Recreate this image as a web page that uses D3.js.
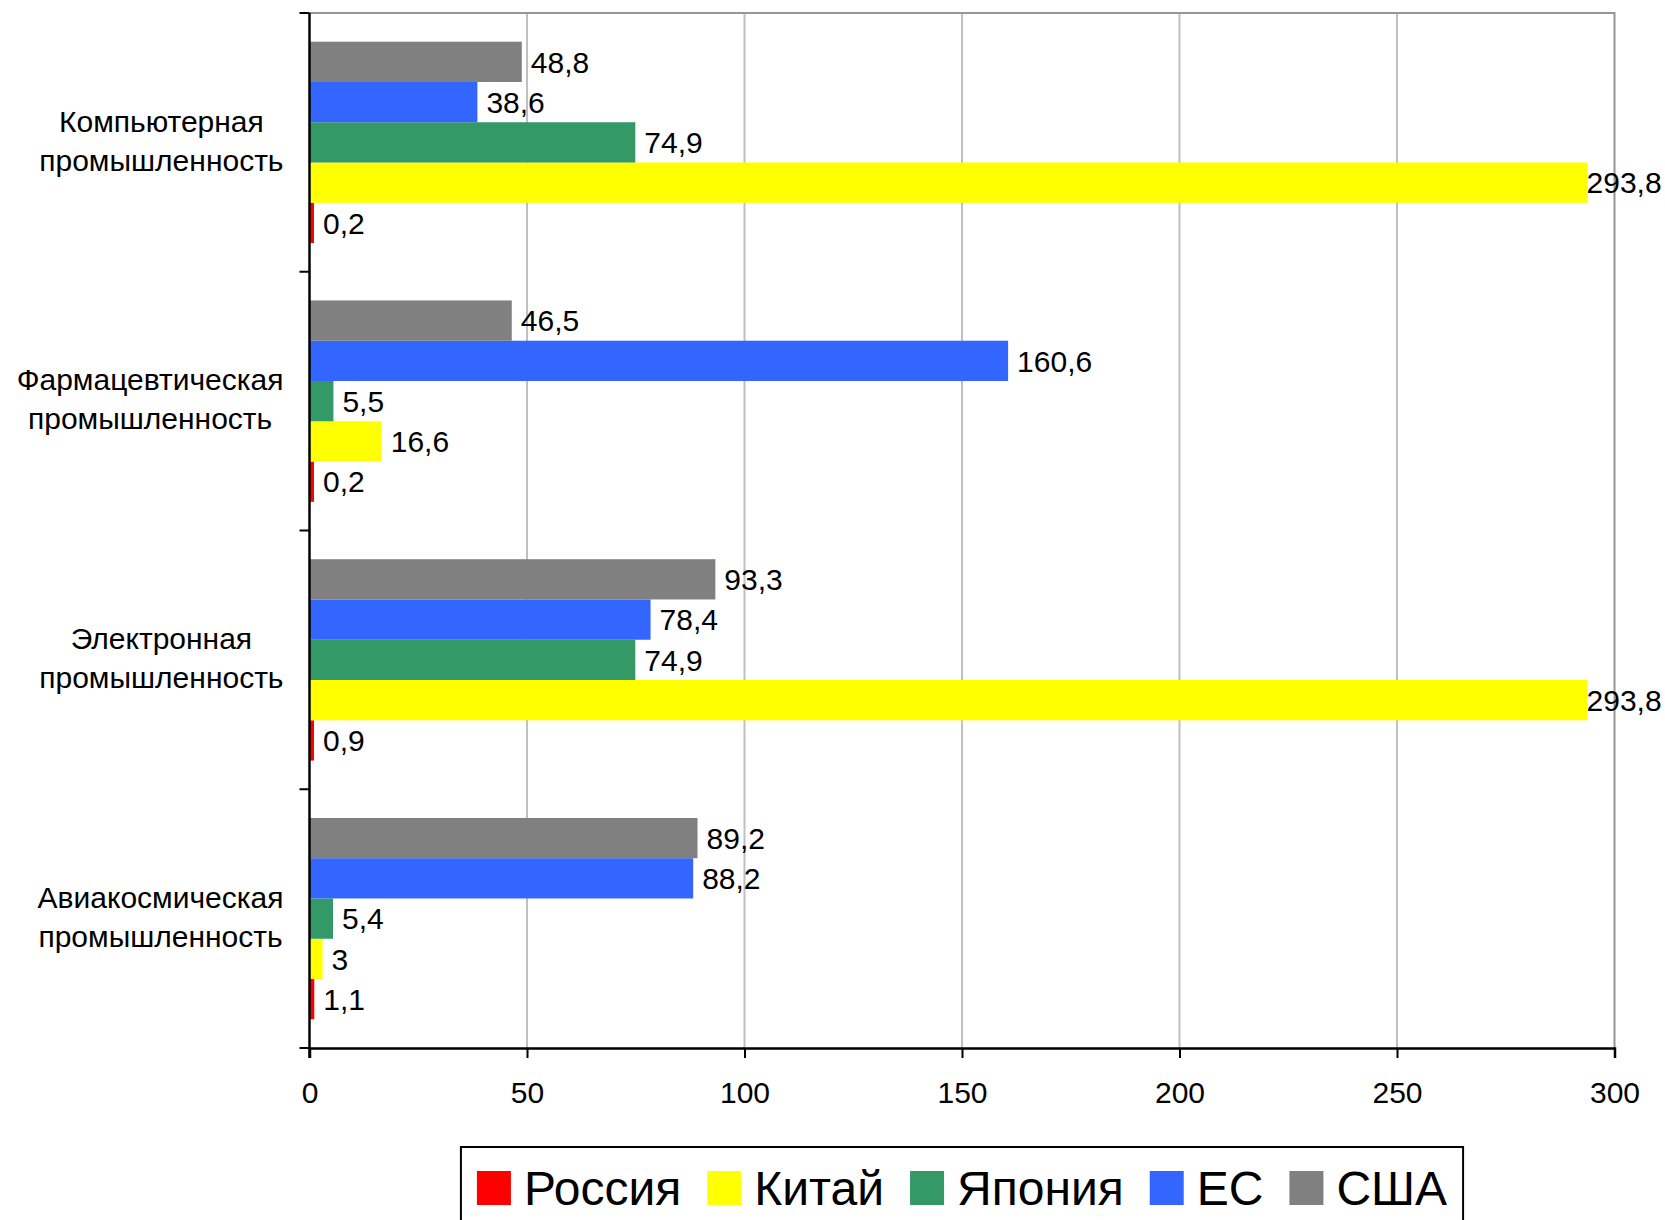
<!DOCTYPE html>
<html>
<head>
<meta charset="utf-8">
<script src="https://cdn.jsdelivr.net/npm/d3@7"></script>
<style>
  body { margin: 0; background: #fff; }
  text { font-family: "Liberation Sans", Arial, sans-serif; fill: #000; }
</style>
</head>
<body>
<script>
// Data
const categories = ["Компьютерная промышленность", "Фармацевтическая промышленность", "Электронная промышленность", "Авиакосмическая промышленность"];
const seriesNames = ["Россия", "Китай", "Япония", "ЕС", "США"];
const russia = [0.2, 0.2, 0.9, 1.1];
const china = [293.8, 16.6, 293.8, 3];
const japan = [74.9, 5.5, 74.9, 5.4];
const eu = [38.6, 160.6, 78.4, 88.2];
const usa = [48.8, 46.5, 93.3, 89.2];
const xTicks = [0, 50, 100, 150, 200, 250, 300];

const seriesValues = [russia, china, japan, eu, usa];
const colors = ["#ff0000", "#ffff00", "#339966", "#3366ff", "#808080"];

// Chart dimensions
const W = 1665, H = 1220;
const plot = { left: 309.5, right: 1614.5, top: 13, bottom: 1048 };

const svg = d3.select("body")
    .append("svg")
    .attr("width", W)
    .attr("height", H);

const fmt = d3.formatLocale({ decimal: ",", thousands: " ", grouping: [3], currency: ["", ""] }).format(".4~g");

// Scales
const x = d3.scaleLinear().domain([0, 300]).range([plot.left, plot.right]);
const y = d3.scaleBand().domain(categories).range([plot.top, plot.bottom]);
// inside a group the last series (США) is on top
const inner = d3.scaleBand()
    .domain(seriesNames.slice().reverse())
    .range([28.7, y.bandwidth() - 28.7]);

// Gridlines
svg.append("g")
    .selectAll("line")
    .data(xTicks.filter(d => d > 0 && d < 300))
    .enter()
    .append("line")
    .attr("x1", d => x(d)).attr("x2", d => x(d))
    .attr("y1", plot.top).attr("y2", plot.bottom)
    .attr("stroke", "#c0c0c0")
    .attr("stroke-width", 2);

// Plot border (top and right)
svg.append("path")
    .attr("d", `M${plot.left},${plot.top}H${plot.right}V${plot.bottom}`)
    .attr("fill", "none")
    .attr("stroke", "#969696")
    .attr("stroke-width", 2);

// Bars
const bars = [];
seriesNames.forEach((s, i) => {
    categories.forEach((c, j) => bars.push({ s, c, v: seriesValues[i][j], color: colors[i] }));
});

svg.append("g")
    .selectAll("rect")
    .data(bars)
    .enter()
    .append("rect")
    .attr("x", x(0))
    .attr("y", d => y(d.c) + inner(d.s))
    .attr("width", d => Math.max(x(d.v) - x(0), 4.5))
    .attr("height", inner.bandwidth())
    .attr("fill", d => d.color);

// Value labels
svg.append("g")
    .selectAll("text")
    .data(bars)
    .enter()
    .append("text")
    .attr("y", d => y(d.c) + inner(d.s) + inner.bandwidth() / 2)
    .attr("dy", "0.36em")
    .attr("font-size", 30)
    .text(d => fmt(d.v))
    .each(function (d) {
        const w = this.getComputedTextLength();
        const end = Math.max(x(d.v), x(0) + 4.5);
        let xp = end + 9;
        if (xp + w > W - 3) xp = end - 1;
        d3.select(this).attr("x", xp);
    });

// X axis
const xAxis = d3.axisBottom(x).tickValues(xTicks).tickSize(10).tickPadding(24).tickFormat(d => d);
const gx = svg.append("g")
    .attr("transform", `translate(0,${plot.bottom})`)
    .call(xAxis);
gx.select(".domain").attr("stroke", "#000").attr("stroke-width", 2.5);
gx.selectAll(".tick line").attr("stroke", "#000").attr("stroke-width", 2);
gx.selectAll(".tick text").attr("font-size", 30).attr("font-family", null);

// Y axis with ticks at category boundaries
const bounds = categories.map(c => y(c)).concat([plot.bottom]);
svg.append("line")
    .attr("x1", plot.left).attr("x2", plot.left)
    .attr("y1", plot.top).attr("y2", plot.bottom + 10)
    .attr("stroke", "#000").attr("stroke-width", 2.5);
svg.append("g")
    .selectAll("line")
    .data(bounds)
    .enter()
    .append("line")
    .attr("x1", plot.left - 10).attr("x2", plot.left)
    .attr("y1", d => d).attr("y2", d => d)
    .attr("stroke", "#000").attr("stroke-width", 2);

// Category labels: block right edge near the axis, lines centered in the block
categories.forEach(c => {
    const lines = c.split(" ");
    const cy = y(c) + y.bandwidth() / 2;
    const t = svg.append("text")
        .attr("font-size", 30)
        .attr("text-anchor", "middle");
    lines.forEach((l, k) => {
        t.append("tspan")
            .attr("y", cy - 10.7 + k * 39)
            .text(l);
    });
    let maxW = 0;
    t.selectAll("tspan").each(function () { maxW = Math.max(maxW, this.getComputedTextLength()); });
    t.selectAll("tspan").attr("x", plot.left - 26 - maxW / 2);
});

// Legend
const legend = svg.append("g");
let lx = 16;
seriesNames.forEach((s, i) => {
    legend.append("rect")
        .attr("x", lx).attr("y", 24)
        .attr("width", 34).attr("height", 34)
        .attr("fill", colors[i]);
    const t = legend.append("text")
        .attr("x", lx + 47).attr("y", 58)
        .attr("font-size", 48)
        .text(s);
    lx += 47 + t.node().getComputedTextLength() + 26;
});
const legendW = lx - 26 + 16;
const legendX = (plot.left + plot.right) / 2 - legendW / 2;
legend.insert("rect", ":first-child")
    .attr("x", 0).attr("y", 0)
    .attr("width", legendW).attr("height", 120)
    .attr("fill", "#fff")
    .attr("stroke", "#000")
    .attr("stroke-width", 2);
legend.attr("transform", `translate(${legendX},1147)`);
</script>
</body>
</html>
